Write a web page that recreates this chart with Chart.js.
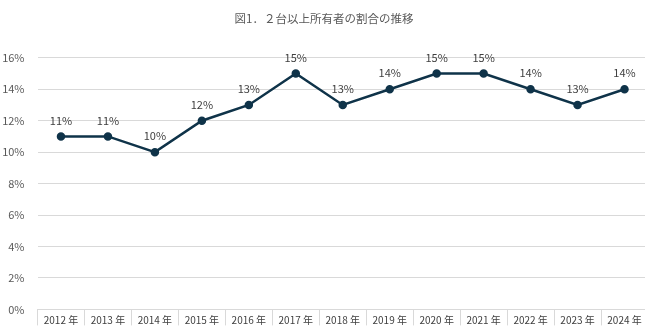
<!DOCTYPE html>
<html>
<head>
<meta charset="utf-8">
<script src="https://cdn.jsdelivr.net/npm/chart.js@4"></script>
<style>
  html, body { margin: 0; padding: 0; background: #fff; overflow: hidden; }
  /* the plot runs a few pixels past the right edge of the window */
  #wrap { width: 648px; height: 329px; }
</style>
</head>
<body>
<div id="wrap"><canvas id="ownerChart"></canvas></div>
<script>
const years = ["2012 年", "2013 年", "2014 年", "2015 年", "2016 年", "2017 年", "2018 年",
  "2019 年", "2020 年", "2021 年", "2022 年", "2023 年", "2024 年"];
const shareValues = [11, 11, 10, 12, 13, 15, 13, 14, 15, 15, 14, 13, 14];
const yMin = 0;
const yMax = 16;
const yStep = 2;

const FONT = "'Noto Sans CJK JP', 'Noto Sans', sans-serif";
const LINE = "#0f3349";
const GRID = "#d9d9d9";

// value labels above each point
const pointLabels = {
  id: "pointLabels",
  afterDatasetsDraw(chart) {
    const ctx = chart.ctx;
    const meta = chart.getDatasetMeta(0);
    ctx.save();
    ctx.font = "11px " + FONT;
    ctx.fillStyle = "#404040";
    ctx.textAlign = "center";
    ctx.textBaseline = "middle";
    meta.data.forEach((pt, i) => {
      ctx.fillText(shareValues[i] + "%", pt.x, pt.y - 16);
    });
    ctx.restore();
  }
};

new Chart(document.getElementById("ownerChart"), {
  type: "line",
  data: {
    labels: years,
    datasets: [{
      data: shareValues,
      borderColor: LINE,
      backgroundColor: LINE,
      borderWidth: 2.5,
      pointRadius: 3,
      pointHoverRadius: 3,
      tension: 0
    }]
  },
  options: {
    responsive: true,
    maintainAspectRatio: false,
    animation: false,
    layout: { padding: 0, autoPadding: false },
    plugins: {
      legend: { display: false },
      tooltip: { enabled: false },
      title: {
        display: true,
        text: "図1．２台以上所有者の割合の推移",
        color: "#595959",
        font: { family: FONT, size: 11.5, weight: "normal" },
        padding: { top: 12, bottom: 32 }
      }
    },
    scales: {
      x: {
        offset: true,
        grid: {
          offset: true,
          drawOnChartArea: false,
          drawTicks: true,
          tickLength: 16,
          color: GRID
        },
        border: { display: true, color: GRID },
        ticks: {
          color: "#404040",
          padding: -11,
          maxRotation: 0,
          autoSkip: false,
          font: { family: FONT, size: 10 }
        },
        afterFit(scale) { scale.height = 16; }
      },
      y: {
        min: yMin,
        max: yMax,
        grid: { color: GRID, drawTicks: false },
        border: { display: false },
        ticks: {
          stepSize: yStep,
          color: "#595959",
          padding: 13,
          font: { family: FONT, size: 11 },
          callback: v => v + "%"
        },
        afterFit(scale) { scale.width = 37.5; }
      }
    }
  },
  plugins: [pointLabels]
});
</script>
</body>
</html>
